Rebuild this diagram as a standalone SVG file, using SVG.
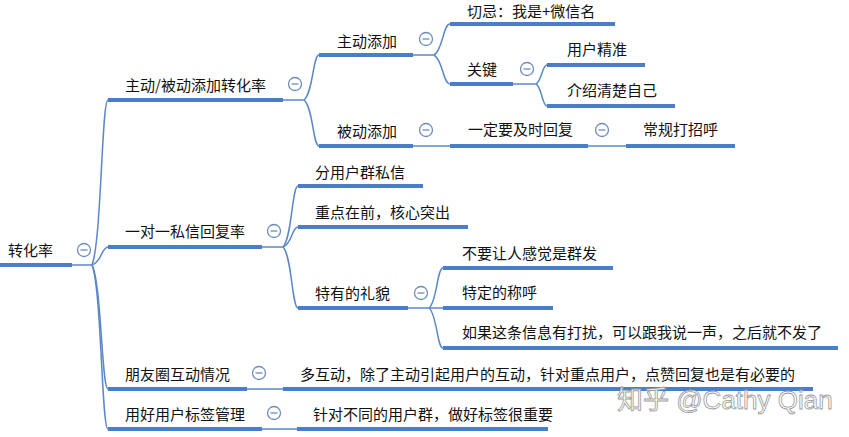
<svg xmlns="http://www.w3.org/2000/svg" width="849" height="437" viewBox="0 0 849 437">
<defs>
<style>
.t{font-family:"Noto Sans CJK SC","Liberation Sans",sans-serif;font-size:15px;fill:#111}
.u{stroke:#4a7fc8;stroke-width:4;fill:none}
.c{stroke:#5b88c8;stroke-width:1.5;fill:none}
.wm{font-family:"Liberation Sans","Noto Sans CJK SC",sans-serif;font-size:26px;fill:#fff;fill-opacity:0.85;stroke:#9a9a9a;stroke-width:0.8}
</style>
<g id="minus"><circle cx="0" cy="0" r="6.5" fill="#fff" stroke="#6f8dbb" stroke-width="1.3"/><line x1="-3.5" y1="0" x2="3.5" y2="0" stroke="#6f8dbb" stroke-width="1.3"/></g>
</defs>
<rect width="849" height="437" fill="#fff"/>

<g id="connectors">
<path class="c" d="M72 265 L92 265"/>
<path class="c" d="M92 265 C101.6 240.2 101.6 100 108 100"/>
<path class="c" d="M92 265 C101.6 262.3 101.6 247 108 247"/>
<path class="c" d="M92 265 C101.6 283.6 101.6 389 108 389"/>
<path class="c" d="M92 265 C101.6 289.6 101.6 429 108 429"/>
<path class="c" d="M283 100 L304 100"/>
<path class="c" d="M304 100 C313 93 313 55 319 55"/>
<path class="c" d="M304 100 C313 107 313 146 319 146"/>
<path class="c" d="M413 55 L434 55"/>
<path class="c" d="M434 55 C443 50 443 24 450 24"/>
<path class="c" d="M434 55 C443 60 443 84 450 84"/>
<path class="c" d="M513 84 L536 84"/>
<path class="c" d="M536 84 C542 81 542 65 547 65"/>
<path class="c" d="M536 84 C542 87 542 106 547 106"/>
<path class="c" d="M413 146 L450 146"/>
<path class="c" d="M588 146 L626 146"/>
<path class="c" d="M262 247 L283 247"/>
<path class="c" d="M283 247 C292 238 292 186 298 186"/>
<path class="c" d="M283 247 C292 244 292 227 298 227"/>
<path class="c" d="M283 247 C292 256 292 308 298 308"/>
<path class="c" d="M408 308 L429 308"/>
<path class="c" d="M429 308 C437 302 437 268 443 268"/>
<path class="c" d="M429 308 L443 308"/>
<path class="c" d="M429 308 C437 314 437 348 443 348"/>
<path class="c" d="M247 389 L283 389"/>
<path class="c" d="M262 429 L297 429"/>
</g>

<g id="n-root"><text class="t" x="8" y="256">转化率</text><path class="u" d="M0 265 H72"/><use href="#minus" x="84" y="250"/></g>

<g id="n-zhudong-beidong"><text class="t" x="125" y="91">主动/被动添加转化率</text><path class="u" d="M108 100 H283"/><use href="#minus" x="295" y="84"/></g>
<g id="n-zhudong"><text class="t" x="337" y="47">主动添加</text><path class="u" d="M319 55 H413"/><use href="#minus" x="426" y="39"/></g>
<g id="n-qieji"><text class="t" x="467" y="17">切忌：我是+微信名</text><path class="u" d="M450 24 H615"/></g>
<g id="n-guanjian"><text class="t" x="467" y="75">关键</text><path class="u" d="M450 84 H513"/><use href="#minus" x="527" y="69"/></g>
<g id="n-yonghu"><text class="t" x="567" y="55">用户精准</text><path class="u" d="M547 65 H645"/></g>
<g id="n-jieshao"><text class="t" x="567" y="96">介绍清楚自己</text><path class="u" d="M547 106 H675"/></g>
<g id="n-beidong"><text class="t" x="337" y="137">被动添加</text><path class="u" d="M319 146 H413"/><use href="#minus" x="426" y="130"/></g>
<g id="n-jishi"><text class="t" x="468" y="135">一定要及时回复</text><path class="u" d="M450 146 H588"/><use href="#minus" x="602" y="130"/></g>
<g id="n-changgui"><text class="t" x="643" y="135">常规打招呼</text><path class="u" d="M626 146 H735"/></g>

<g id="n-siXin"><text class="t" x="125" y="237">一对一私信回复率</text><path class="u" d="M108 247 H262"/><use href="#minus" x="274" y="231"/></g>
<g id="n-fen"><text class="t" x="315" y="178">分用户群私信</text><path class="u" d="M298 186 H423"/></g>
<g id="n-zhongdian"><text class="t" x="315" y="218">重点在前，核心突出</text><path class="u" d="M298 227 H468"/></g>
<g id="n-liMao"><text class="t" x="315" y="299">特有的礼貌</text><path class="u" d="M298 308 H408"/><use href="#minus" x="421" y="293"/></g>
<g id="n-buyao"><text class="t" x="462" y="259">不要让人感觉是群发</text><path class="u" d="M443 268 H613"/></g>
<g id="n-teding"><text class="t" x="462" y="298">特定的称呼</text><path class="u" d="M443 308 H553"/></g>
<g id="n-ruguo"><text class="t" x="462" y="338">如果这条信息有打扰，可以跟我说一声，之后就不发了</text><path class="u" d="M443 348 H838"/></g>

<g id="n-pengyouquan"><text class="t" x="125" y="380">朋友圈互动情况</text><path class="u" d="M108 389 H247"/><use href="#minus" x="259" y="373"/></g>
<g id="n-duohudong"><text class="t" x="300" y="380">多互动，除了主动引起用户的互动，针对重点用户，点赞回复也是有必要的</text><path class="u" d="M283 389 H813"/></g>
<g id="n-biaoqian"><text class="t" x="125" y="420">用好用户标签管理</text><path class="u" d="M108 429 H262"/><use href="#minus" x="274" y="413"/></g>
<g id="n-zhendui"><text class="t" x="313" y="420">针对不同的用户群，做好标签很重要</text><path class="u" d="M297 429 H548"/></g>

<text class="wm" x="617" y="409">知乎 @Cathy Qian</text>
</svg>
